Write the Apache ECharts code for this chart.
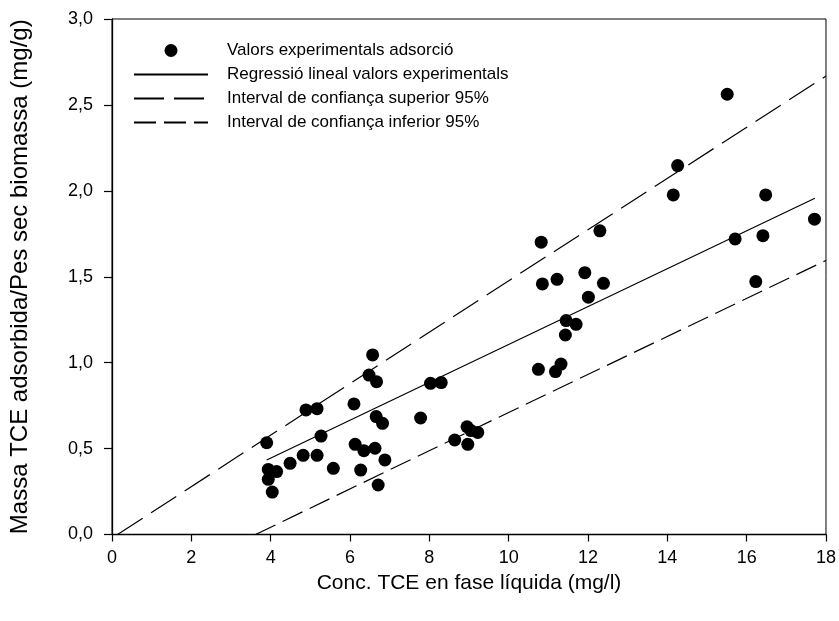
<!DOCTYPE html>
<html>
<head>
<meta charset="utf-8">
<script src="https://cdn.jsdelivr.net/npm/echarts@6/dist/echarts.min.js"></script>
<style>html,body{margin:0;padding:0;background:#fff}#c{width:839px;height:621px}</style>
</head>
<body>
<div id="c"></div>
<script>
var seriesNames = [
  'Valors experimentals adsorció',
  'Regressió lineal valors experimentals',
  'Interval de confiança superior 95%',
  'Interval de confiança inferior 95%'
];
var experimental = [
  [3.90,0.534],[3.94,0.379],[4.15,0.366],[3.94,0.321],[4.04,0.247],[4.49,0.414],
  [4.82,0.461],[5.17,0.461],[4.89,0.725],[5.17,0.732],[5.27,0.573],[5.58,0.385],
  [6.10,0.760],[6.13,0.525],[6.35,0.488],[6.63,0.502],[6.27,0.375],[6.88,0.434],
  [6.71,0.288],[6.57,1.045],[6.48,0.928],[6.67,0.889],[6.66,0.686],[6.82,0.647],
  [7.78,0.678],[8.03,0.880],[8.30,0.884],[8.64,0.550],[8.95,0.627],[9.05,0.605],
  [9.22,0.594],[8.97,0.525],
  [15.51,2.562],[14.26,2.147],[14.15,1.976],[16.48,1.976],[17.71,1.835],[15.71,1.720],
  [16.41,1.739],[16.23,1.472],[12.30,1.767],[10.82,1.701],[10.85,1.458],[11.22,1.485],
  [11.92,1.524],[12.39,1.462],[12.01,1.381],[11.45,1.245],[11.70,1.223],[11.43,1.161],
  [10.75,0.961],[11.18,0.948],[11.32,0.992]
];
var regression = [[3.90,0.434],[17.72,1.957]];
var upperCI = [[0.14,0.0],[9.06,1.336],[18.0,2.668]];
var lowerCI = [[3.62,0.0],[9.69,0.676],[18.0,1.595]];
var xTicks = {min:0, max:18, interval:2};
var yTicks = {min:0, max:3, interval:0.5};

var font = "'Liberation Sans', Arial, sans-serif";
var hideSym = {opacity:0, color:'rgba(0,0,0,0)', borderWidth:0};
var chart = echarts.init(document.getElementById('c'), null, {renderer:'canvas'});
chart.setOption({
  backgroundColor:'#fff',
  animation:false,
  textStyle:{fontFamily:font},
  grid:{left:112, right:11, top:19, bottom:86.5, show:true, borderColor:'#000', borderWidth:1, backgroundColor:'transparent'},
  legend:{
    orient:'vertical', left:133, top:42, padding:0,
    itemWidth:74, itemHeight:13, itemGap:7,
    textStyle:{fontSize:17, color:'#000', fontFamily:font, padding:[0,0,0,14]},
    data:[
      {name:seriesNames[0], icon:'circle', itemStyle:{color:'#000', opacity:1}},
      {name:seriesNames[1], itemStyle:hideSym},
      {name:seriesNames[2], itemStyle:hideSym},
      {name:seriesNames[3], itemStyle:hideSym}
    ]
  },
  xAxis:{
    type:'value', min:xTicks.min, max:xTicks.max, interval:xTicks.interval,
    name:'Conc. TCE en fase líquida (mg/l)', nameLocation:'middle', nameGap:35,
    nameTextStyle:{fontSize:21, color:'#000', fontFamily:font},
    axisLine:{show:true, lineStyle:{color:'#000', width:1.3}},
    axisTick:{show:true, inside:false, length:7, lineStyle:{color:'#000', width:1.2}},
    axisLabel:{fontSize:18, color:'#000', margin:15, fontFamily:font},
    splitLine:{show:false}
  },
  yAxis:{
    type:'value', min:yTicks.min, max:yTicks.max, interval:yTicks.interval,
    name:'Massa TCE adsorbida/Pes sec biomassa (mg/g)', nameLocation:'middle', nameGap:80,
    nameTextStyle:{fontSize:24, color:'#000', fontFamily:font},
    axisLine:{show:true, lineStyle:{color:'#000', width:1.3}},
    axisTick:{show:true, inside:false, length:8, lineStyle:{color:'#000', width:1.2}},
    axisLabel:{fontSize:18, color:'#000', margin:19, fontFamily:font,
      formatter:function(v){return v.toFixed(1).replace('.',',');}},
    splitLine:{show:false}
  },
  series:[
    {name:seriesNames[0], type:'scatter', data:experimental, symbol:'circle', symbolSize:13,
     itemStyle:{color:'#000', opacity:1}, z:5},
    {name:seriesNames[1], type:'line', data:regression, symbol:'none', showSymbol:false,
     lineStyle:{color:'#000', width:1.2, type:'solid'}, itemStyle:{color:'#000'}},
    {name:seriesNames[2], type:'line', data:upperCI, symbol:'none', showSymbol:false,
     lineStyle:{color:'#000', width:1.2, type:[30,10]}, itemStyle:{color:'#000'}},
    {name:seriesNames[3], type:'line', data:lowerCI, symbol:'none', showSymbol:false,
     lineStyle:{color:'#000', width:1.2, type:[22,8]}, itemStyle:{color:'#000'}}
  ]
});
</script>
</body>
</html>
